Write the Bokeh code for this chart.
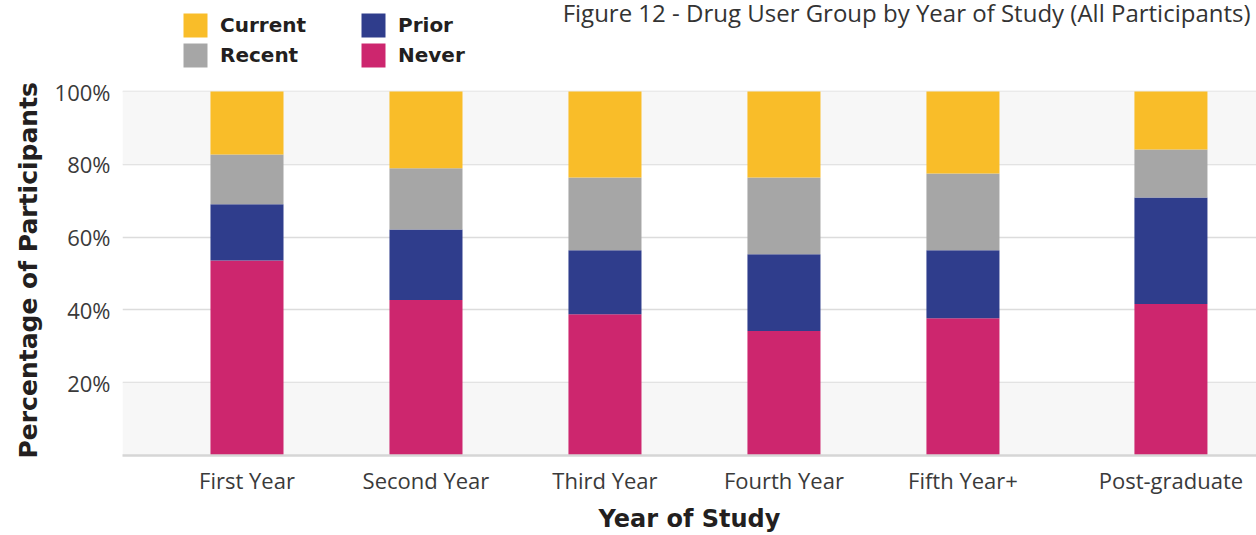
from bokeh.plotting import figure
from bokeh.models import (ColumnDataSource, Range1d, FixedTicker, Legend, LegendItem,
                          BoxAnnotation, PrintfTickFormatter, Label, Title)
from bokeh.embed import file_html
from bokeh.resources import INLINE

# ---- data (percent of participants) ----
years = ["First Year", "Second Year", "Third Year", "Fourth Year", "Fifth Year+", "Post-graduate"]
never = [53.6, 42.7, 38.8, 34.2, 37.7, 41.6]
prior = [15.4, 19.4, 17.6, 21.1, 18.7, 29.3]
recent = [13.7, 16.8, 20.0, 21.1, 21.1, 13.2]
current = [17.3, 21.1, 23.6, 23.6, 22.5, 15.9]
y_ticks = [20, 40, 60, 80, 100]
series_names = ["Never", "Prior", "Recent", "Current"]
title_text = "Figure 12 - Drug User Group by Year of Study (All Participants)"

# ---- layout / style ----
LAST_GAP = 0.162
Y_TOP = 125          # headroom above 100% holds the legend and title
colors = {"Never": "#CD266E", "Prior": "#2F3D8C", "Recent": "#A6A6A6", "Current": "#F9BD29"}
FONT = "Open Sans"
BOLD = "DejaVu Sans"

xpos = [i + (LAST_GAP if i == len(years) - 1 else 0) for i in range(len(years))]
source = ColumnDataSource(dict(x=xpos, Never=never, Prior=prior, Recent=recent, Current=current))

p = figure(width=1256, height=535, output_backend="svg", toolbar_location=None,
           x_range=Range1d(-0.6955, 5.64), y_range=Range1d(0, Y_TOP),
           min_border_left=122, min_border_right=0, min_border_top=0, min_border_bottom=80)
p.outline_line_color = None
p.background_fill_color = "white"
p.title.visible = False

# background bands
for lo, hi in [(0, 20), (80, 100)]:
    p.add_layout(BoxAnnotation(bottom=lo, top=hi, fill_color="#F7F7F7", fill_alpha=1.0,
                               line_color=None, level="underlay"))

renderers = p.vbar_stack(series_names, x="x", width=0.408, source=source,
                         color=[colors[n] for n in series_names], line_color=None)
rmap = dict(zip(series_names, renderers))

# axes
p.xaxis.ticker = FixedTicker(ticks=xpos)
p.xaxis.major_label_overrides = {x: lab for x, lab in zip(xpos, years)}
p.xaxis.major_tick_line_color = None
p.xaxis.major_tick_out = 0
p.xaxis.major_tick_in = 0
p.xaxis.minor_tick_line_color = None
p.xaxis.axis_line_color = "#D6D6D6"
p.xaxis.axis_line_width = 2.5
p.xaxis.major_label_text_font = FONT
p.xaxis.major_label_text_font_size = "22px"
p.xaxis.major_label_text_color = "#3A3A3A"
p.xaxis.major_label_standoff = 9
p.xaxis.axis_label = "Year of Study"
p.xaxis.axis_label_text_font = BOLD
p.xaxis.axis_label_text_font_style = "bold"
p.xaxis.axis_label_text_font_size = "24px"
p.xaxis.axis_label_text_color = "#231F20"
p.xaxis.axis_label_standoff = 7

p.yaxis.ticker = FixedTicker(ticks=y_ticks)
p.yaxis.formatter = PrintfTickFormatter(format="%d%%")
p.yaxis.major_tick_line_color = None
p.yaxis.major_tick_out = 0
p.yaxis.major_tick_in = 0
p.yaxis.minor_tick_line_color = None
p.yaxis.axis_line_color = None
p.yaxis.major_label_text_font = FONT
p.yaxis.major_label_text_font_size = "22px"
p.yaxis.major_label_text_color = "#3A3A3A"
p.yaxis.major_label_standoff = 12

# y-axis title as a side title so it can sit beside the 0-100% part
ytitle = Title(text="Percentage of Participants", align="left", offset=-3, standoff=18,
               text_font=BOLD, text_font_style="bold", text_font_size="25px",
               text_line_height=1.0, text_color="#231F20")
p.add_layout(ytitle, "left")

p.xgrid.visible = False
p.ygrid.ticker = FixedTicker(ticks=y_ticks)
p.ygrid.grid_line_color = "#DCDCDC"
p.ygrid.grid_line_width = 1.5

# legend
legend = Legend(items=[LegendItem(label=n, renderers=[rmap[n]]) for n in ["Current", "Recent", "Prior", "Never"]],
                orientation="vertical", nrows=2, location=(58, 385),
                glyph_width=30, glyph_height=30, label_standoff=10, label_width=138,
                spacing=0, padding=0, margin=0, border_line_color=None, background_fill_alpha=0,
                label_text_font=BOLD, label_text_font_style="bold", label_text_font_size="20px",
                label_text_color="#231F20")
p.add_layout(legend, "center")

# chart title (top right)
p.add_layout(Label(x=1128, y=443, x_units="screen", y_units="screen", text=title_text,
                   text_font=FONT, text_font_size="24px", text_color="#333333",
                   text_align="right", text_baseline="alphabetic"))

open("out.html", "w").write(file_html(p, INLINE))
